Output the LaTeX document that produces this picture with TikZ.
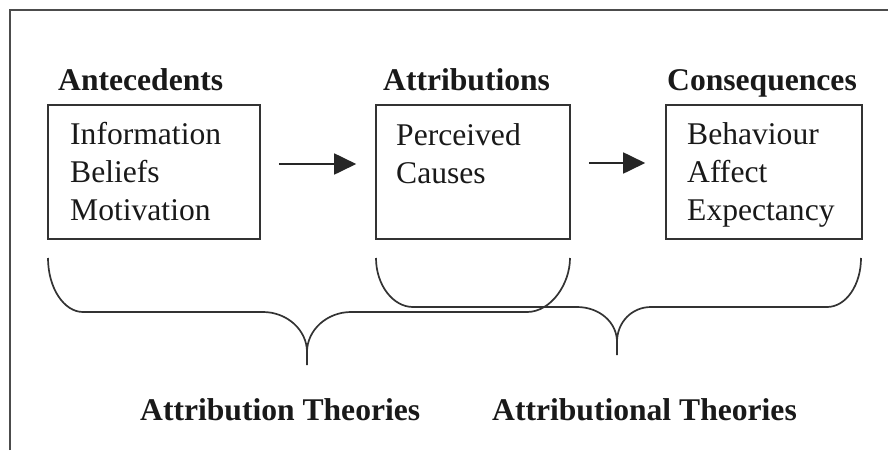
\documentclass[tikz,border=0pt]{standalone}
\usepackage{fontspec}
\setmainfont{Liberation Serif}
\usepackage{tikz}
\usetikzlibrary{arrows.meta,positioning}

\newcommand{\headfont}{\fontsize{31.6}{38}\selectfont\bfseries}
\newcommand{\itemfont}{\fontsize{31.6}{38}\selectfont}

\begin{document}
\begin{tikzpicture}[x=1pt,y=-1pt]
			\tikzstyle{Frame}	= [draw=black!70, line width=1.8pt]
			\tikzstyle{Box}		= [draw=black!80, line width=1.6pt, inner sep=0pt]
			\tikzstyle{Head}	= [font=\headfont, text=black!90, anchor=base west, inner sep=0pt]
			\tikzstyle{Items}	= [font=\itemfont, text=black!90, anchor=base west, align=left, inner sep=0pt]
			\tikzstyle{Link}	= [draw=black!85, line width=1.8pt, -{Triangle[length=22pt,width=21pt]}, fill=black!75]
			\tikzstyle{Brace}	= [draw=black!80, line width=1.7pt, line join=round]

			\useasboundingbox (0,0) rectangle (888,450);
			\draw [Frame] (10,450) -- (10,10) -- (888,10);

			% the three stages
			\node (anteHead) at (58,90) [Head] {Antecedents};
			\node (attrHead) at (383,90) [Head] {Attributions};
			\node (consHead) at (667,90) [Head] {Consequences};

			\node (ante) at (154,172) [Box, minimum width=212pt, minimum height=134pt] {};
			\node (attr) at (473,172) [Box, minimum width=194pt, minimum height=134pt] {};
			\node (cons) at (764,172) [Box, minimum width=196pt, minimum height=134pt] {};

			\node (anteText) at (70,220) [Items] {Information\\Beliefs\\Motivation};
			\node (attrText) at (396,183) [Items] {Perceived\\Causes};
			\node (consText) at (687,220) [Items] {Behaviour\\Affect\\Expectancy};

			\draw [Link, shorten <=18pt, shorten >=19pt] ([yshift=8pt]ante.east) -- ([yshift=8pt]attr.west);
			\draw [Link, shorten <=18pt, shorten >=20pt] ([yshift=9pt]attr.east) -- ([yshift=9pt]cons.west);

			% the two braces
			\draw [Brace] (48,258) .. controls (48,288) and (64,312) .. (83,312) -- (263,312)
				.. controls (287,312) and (307,330) .. (307,352) -- (307,365);
			\draw [Brace] (307,352) .. controls (307,330) and (327,312) .. (351,312) -- (527,312)
				.. controls (551,312) and (570,284) .. (570,258);
			\draw [Brace] (376,258) .. controls (376,285) and (393,307) .. (413,307) -- (577,307)
				.. controls (599,307) and (617,322) .. (617,342) -- (617,355);
			\draw [Brace] (617,342) .. controls (617,322) and (632,307) .. (651,307) -- (827,307)
				.. controls (846,307) and (861,285) .. (861,258);

			\node (attrTheo) at (140,420) [Head] {Attribution Theories};
			\node (attlTheo) at (492,420) [Head] {Attributional Theories};
		\end{tikzpicture}
\end{document}
